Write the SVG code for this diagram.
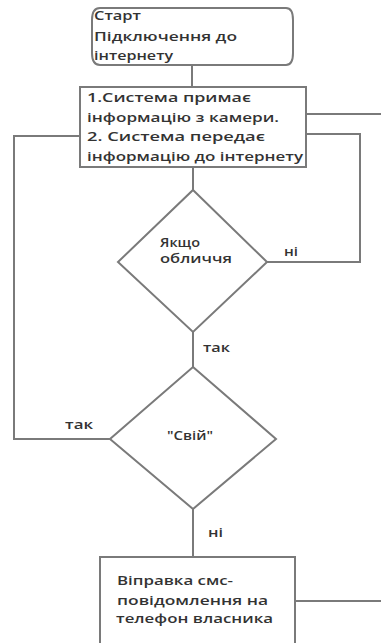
<svg xmlns="http://www.w3.org/2000/svg" width="381" height="643" viewBox="0 0 381 643">
<style>
.s{fill:#fff;stroke:#7a7a7a;stroke-width:2}
.c{fill:none;stroke:#7a7a7a;stroke-width:2}
text{font-family:"Open Sans","Liberation Sans",sans-serif;font-size:12.5px;fill:#333;font-weight:600}
</style>
<rect width="381" height="643" fill="#fff"/>
<g id="connectors">
<path class="c" d="M192 65V87"/>
<path class="c" d="M306 114H381"/>
<path class="c" d="M306 134H360V262H267"/>
<path class="c" d="M193 167V190"/>
<path class="c" d="M193 332V367"/>
<path class="c" d="M110 439H14V136H80"/>
<path class="c" d="M193 509V557"/>
<path class="c" d="M295 601H381"/>
<text x="284" y="256" textLength="14" lengthAdjust="spacingAndGlyphs">ні</text>
<text x="203" y="352" textLength="27" lengthAdjust="spacingAndGlyphs">так</text>
<text x="65" y="429" textLength="28" lengthAdjust="spacingAndGlyphs">так</text>
<text x="208" y="537" textLength="15" lengthAdjust="spacingAndGlyphs">ні</text>
</g>
<g id="start">
<path class="s" d="M100 8H286Q293 8 293 20V53Q293 65 286 65H100Q92 65 92 53V20Q92 8 100 8Z"/>
<text x="94" y="20" textLength="47" lengthAdjust="spacingAndGlyphs">Старт</text>
<text x="94" y="41" textLength="143" lengthAdjust="spacingAndGlyphs">Підключення до</text>
<text x="94" y="60" textLength="79" lengthAdjust="spacingAndGlyphs">інтернету</text>
</g>
<g id="process">
<rect class="s" x="80" y="87" width="226" height="80"/>
<text x="87" y="102" textLength="164" lengthAdjust="spacingAndGlyphs">1.Система примає</text>
<text x="87" y="122" textLength="192" lengthAdjust="spacingAndGlyphs">інформацію з камери.</text>
<text x="87" y="141" textLength="178" lengthAdjust="spacingAndGlyphs">2. Система передає</text>
<text x="87" y="161" textLength="216" lengthAdjust="spacingAndGlyphs">інформацію до інтернету</text>
</g>
<g id="face">
<polygon class="s" points="193,190 267,262 193,332 118,262"/>
<text x="160" y="247" textLength="40" lengthAdjust="spacingAndGlyphs">Якщо</text>
<text x="160" y="263" textLength="72" lengthAdjust="spacingAndGlyphs">обличчя</text>
</g>
<g id="own">
<polygon class="s" points="193,367 276,439 193,509 110,439"/>
<text x="167" y="440" textLength="46" lengthAdjust="spacingAndGlyphs">"Свій"</text>
</g>
<g id="sms">
<rect class="s" x="100" y="557" width="195" height="95"/>
<text x="117" y="585" textLength="116" lengthAdjust="spacingAndGlyphs">Віправка смс-</text>
<text x="117" y="605" textLength="151" lengthAdjust="spacingAndGlyphs">повідомлення на</text>
<text x="116" y="623" textLength="157" lengthAdjust="spacingAndGlyphs">телефон власника</text>
</g>
</svg>
